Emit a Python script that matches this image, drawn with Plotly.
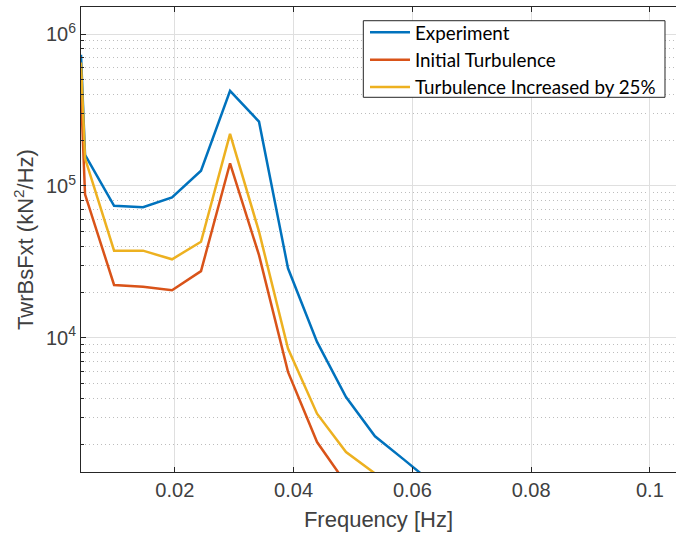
import plotly.graph_objects as go

# Frequency bins (Hz)
freq = [0.0042, 0.00488, 0.00977, 0.01465, 0.01953, 0.02441, 0.02930,
        0.03418, 0.03906, 0.04395, 0.04883, 0.05371, 0.05859, 0.06348]

# Tower-base fore-aft shear force PSD, kN^2/Hz
experiment = [7.3e5, 1.60e5, 7.4e4, 7.25e4, 8.4e4, 1.26e5, 4.23e5,
              2.65e5, 2.87e4, 9.4e3, 4.08e3, 2.25e3, 1.58e3, 1.1e3]
initial_turb = [4.1e5, 8.8e4, 2.23e4, 2.17e4, 2.06e4, 2.75e4, 1.41e5,
                3.5e4, 5.97e3, 2.06e3, 1.1e3]
turb_plus25 = [6.5e5, 1.52e5, 3.75e4, 3.75e4, 3.29e4, 4.29e4, 2.20e5,
               5.0e4, 8.51e3, 3.17e3, 1.77e3, 1.28e3]

series_names = ["Experiment", "Initial Turbulence", "Turbulence Increased by 25%"]
series_values = [experiment, initial_turb, turb_plus25]
series_colors = ["#0072BD", "#D95319", "#EDB120"]

x_ticks = [0.02, 0.04, 0.06, 0.08, 0.1]
x_ticktext = ["0.02", "0.04", "0.06", "0.08", "0.1"]
y_ticks = [1e4, 1e5, 1e6]
y_ticktext = ["10<sup>4</sup>", "10<sup>5</sup>", "10<sup>6</sup>"]
# minor decade subdivisions (2..9 x 10^n)
y_minor = [k * 10 ** e for e in (3, 4, 5, 6) for k in range(2, 10)]

axis_color = "#262626"
text_color = "#404040"
grid_major = "#dfdfdf"
grid_minor = "#bdbdbd"
base_font = "Liberation Sans"

fig = go.Figure()
for name, vals, col in zip(series_names, series_values, series_colors):
    fig.add_trace(go.Scatter(
        x=freq[:len(vals)], y=vals, mode="lines", name=name,
        line=dict(color=col, width=2.5),
    ))

# framed white box behind the legend entries
fig.add_shape(
    type="rect", xref="paper", yref="paper",
    x0=0.4745, x1=0.9815, y0=0.8058, y1=0.9705,
    line=dict(color=axis_color, width=1), fillcolor="white", layer="above",
)

fig.update_layout(
    width=676, height=536,
    margin=dict(l=81, r=0, t=7, b=64),
    paper_bgcolor="white", plot_bgcolor="white",
    font=dict(family=base_font, color=axis_color),
    showlegend=True,
    legend=dict(
        x=0.4773, y=0.986, xanchor="left", yanchor="top",
        bgcolor="rgba(0,0,0,0)", borderwidth=0,
        font=dict(family="Lato", size=18.8, color="#000000"),
        tracegroupgap=0, itemwidth=40,
    ),
)

fig.update_xaxes(
    range=[0.0042, 0.1044],
    tickvals=x_ticks, ticktext=x_ticktext,
    tickfont=dict(family=base_font, size=20, color=text_color),
    ticks="inside", ticklen=5, tickcolor=axis_color,
    showline=True, linecolor=axis_color, linewidth=1, mirror="ticks",
    showgrid=True, gridcolor=grid_major, gridwidth=1,
    zeroline=False,
    title=dict(text="Frequency [Hz]",
               font=dict(family=base_font, size=22, color=text_color), standoff=11),
)

fig.update_yaxes(
    type="log", range=[3.117, 6.178],
    tickvals=y_ticks, ticktext=y_ticktext,
    tickfont=dict(family=base_font, size=20, color=text_color),
    ticks="inside", ticklen=5, tickcolor=axis_color,
    showline=True, linecolor=axis_color, linewidth=1, mirror=False,
    showgrid=True, gridcolor=grid_major, gridwidth=1,
    minor=dict(tickmode="array", tickvals=y_minor,
               ticks="inside", ticklen=3, tickcolor=axis_color,
               showgrid=True, gridcolor=grid_minor, griddash="1px,3px", gridwidth=1),
    zeroline=False,
    title=dict(text="TwrBsFxt (kN<sup>2</sup>/Hz)",
               font=dict(family=base_font, size=22, color=text_color), standoff=6),
)

fig.write_html("out.html")
